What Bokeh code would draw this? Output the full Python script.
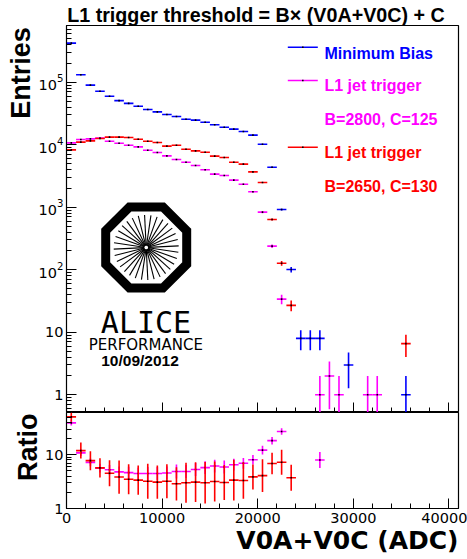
import math
from bokeh.plotting import figure
from bokeh.layouts import column
from bokeh.models import (Range1d, FixedTicker, SingleIntervalTicker, LogTickFormatter,
                          Label, ColumnDataSource, Title, CustomJSTickFormatter)
from bokeh.embed import file_html
from bokeh.resources import INLINE

# ---------------- data ----------------
BIN_WIDTH = 1000
X_MAX = 41000

counts_min_bias = [423000, 132000, 90000, 72000, 60000, 51000, 46000, 41500, 36700, 33700,
                   30500, 28400, 25700, 24800, 23000, 20900, 19100, 17800, 16300, 14300,
                   10200, 4380, 922, 101, 8, 8, 8, 0, 0, 3,
                   0, 0, 0, 0, 0, 1, 0, 0, 0, 0, 0]
counts_l1_b2800 = [10750, 12150, 12460, 12770, 11430, 10620, 9860, 9280, 8200, 7530,
                   6660, 5820, 5270, 4670, 3980, 3390, 3230, 2720, 2344, 1770,
                   836, 239, 34, 0, 0, 0, 1, 2, 1, 0,
                   0, 1, 1, 0, 0, 0, 0, 0, 0, 0, 0]
counts_l1_b2650 = [8310, 11020, 11570, 12610, 13250, 13250, 13090, 12300, 11430, 10890,
                   9510, 9860, 8510, 8010, 7620, 6580, 6270, 5270, 4900, 3690,
                   2494, 638, 127, 27, 0, 0, 0, 0, 0, 0,
                   0, 0, 0, 0, 0, 6.6, 0, 0, 0, 0, 0]
# ratio error half-widths (in decades)
ratio_err_dex_b2800 = [0.05, 0.06, 0.07, 0.08, 0.09, 0.10, 0.11, 0.11, 0.12, 0.12,
                       0.12, 0.13, 0.12, 0.12, 0.12, 0.12, 0.12, 0.11, 0.10, 0.09,
                       0.08, 0.07, 0.06, 0, 0, 0, 0.15, 0, 0, 0,
                       0, 0, 0, 0, 0, 0, 0, 0, 0, 0, 0]
ratio_err_dex_b2650 = [0.09, 0.149, 0.177, 0.18, 0.242, 0.31, 0.28, 0.273, 0.326, 0.31,
                       0.317, 0.31, 0.372, 0.372, 0.388, 0.372, 0.326, 0.378, 0.34, 0.233,
                       0.304, 0.2, 0.232, 0.242, 0, 0, 0, 0, 0, 0,
                       0, 0, 0, 0, 0, 0, 0, 0, 0, 0, 0]

legend_texts = ["Minimum Bias", "L1 jet trigger", "B=2800, C=125", "L1 jet trigger", "B=2650, C=130"]
title_text = "L1 trigger threshold = B\u00d7 (V0A+V0C) + C"
x_title = "V0A+V0C (ADC)"
y_title_top = "Entries"
y_title_bottom = "Ratio"

BLUE = "#0000ff"
MAGENTA = "#ff00ff"
RED = "#ff0000"

# ---------------- geometry ----------------
W, H = 467, 559
FL, FR = 66, 458          # frame left/right (px)
T_TOP, T_BOT = 25, 412    # top panel frame
B_TOP, B_BOT = 412, 508   # ratio panel frame
Y_TOP_MIN, Y_TOP_MAX = 0.521, 8.11e5
Y_BOT_MIN, Y_BOT_MAX = 1.0, 61.3


def tx(px):
    return (px - FL) / (FR - FL) * X_MAX


def ty(py):
    a, b = math.log10(Y_TOP_MIN), math.log10(Y_TOP_MAX)
    return 10 ** (a + (T_BOT - py) / (T_BOT - T_TOP) * (b - a))


def hist_source(counts):
    d = dict(x=[], x0=[], x1=[], y=[], lo=[], hi=[])
    for i, c in enumerate(counts):
        if c <= 0:
            continue
        xc = (i + 0.5) * BIN_WIDTH
        e = math.sqrt(c)
        d["x"].append(xc)
        d["x0"].append(xc - BIN_WIDTH / 2)
        d["x1"].append(xc + BIN_WIDTH / 2)
        d["y"].append(c)
        d["lo"].append(max(c - e, 1e-3))
        d["hi"].append(c + e)
    return ColumnDataSource(d)


def ratio_source(num, den, err_dex):
    d = dict(x=[], x0=[], x1=[], y=[], lo=[], hi=[])
    for i, (n, m, e) in enumerate(zip(num, den, err_dex)):
        if n <= 0 or m <= 0:
            continue
        r = n / m
        xc = (i + 0.5) * BIN_WIDTH
        d["x"].append(xc)
        d["x0"].append(xc - BIN_WIDTH / 2)
        d["x1"].append(xc + BIN_WIDTH / 2)
        d["y"].append(r)
        d["lo"].append(r / 10 ** e)
        d["hi"].append(r * 10 ** e)
    return ColumnDataSource(d)


def draw_cross(p, src, color):
    p.segment(x0="x0", y0="y", x1="x1", y1="y", source=src, line_color=color, line_width=1.6)
    p.segment(x0="x", y0="lo", x1="x", y1="hi", source=src, line_color=color, line_width=1.6)
    p.scatter(x="x", y="y", source=src, marker="square", size=1.6,
              fill_color="black", line_color=None)


def style_common(p):
    p.outline_line_color = "black"
    p.outline_line_width = 1.2
    p.xgrid.visible = False
    p.ygrid.visible = False
    p.background_fill_color = "white"
    p.border_fill_color = "white"
    for ax in p.axis:
        ax.axis_line_color = "black"
        ax.major_tick_line_color = "black"
        ax.minor_tick_line_color = "black"
        ax.major_tick_out = 0
        ax.minor_tick_out = 0
        ax.major_tick_in = 10
        ax.minor_tick_in = 5
        ax.major_label_text_font = "DejaVu Sans"
        ax.major_label_text_font_size = "14.5px"
        ax.major_label_text_color = "black"


def side_title(text, align, valign, font, size, style="bold", offset=0, standoff=0):
    return Title(text=text, align=align, vertical_align=valign, text_font=font,
                 text_font_size=size, text_font_style=style, text_color="black",
                 offset=offset, standoff=standoff)


# ---------------- top panel ----------------
p1 = figure(width=W, height=T_BOT, y_axis_type="log",
            x_range=Range1d(0, X_MAX), y_range=Range1d(Y_TOP_MIN, Y_TOP_MAX),
            output_backend="svg", toolbar_location=None,
            min_border_left=FL, min_border_right=W - FR,
            min_border_top=T_TOP, min_border_bottom=0)
style_common(p1)
top_major = [1, 10, 100, 1e3, 1e4, 1e5]
top_minor = [m * 10 ** k for k in range(-1, 6) for m in range(2, 10)
             if Y_TOP_MIN < m * 10 ** k < Y_TOP_MAX]
p1.yaxis.ticker = FixedTicker(ticks=top_major, minor_ticks=top_minor)
p1.yaxis.formatter = LogTickFormatter(min_exponent=2)
p1.yaxis.major_label_standoff = 3
p1.xaxis.ticker = SingleIntervalTicker(interval=10000, num_minor_ticks=5)
p1.xaxis.formatter = CustomJSTickFormatter(code="return ''")
p1.xaxis.major_label_text_font_size = "1px"
p1.xaxis.major_label_standoff = 0

# title (above) and y title (left)
p1.title.text = title_text
p1.title.align = "left"
p1.title.vertical_align = "bottom"
p1.title.text_font = "Liberation Sans"
p1.title.text_font_style = "bold"
p1.title.text_font_size = "19.7px"
p1.title.text_color = "black"
p1.title.offset = 0.7
p1.title.standoff = 0
p1.add_layout(side_title(y_title_top, "right", "bottom", "Liberation Sans", "27px",
                         offset=1.7), "left")

draw_cross(p1, hist_source(counts_min_bias), BLUE)
draw_cross(p1, hist_source(counts_l1_b2800), MAGENTA)
draw_cross(p1, hist_source(counts_l1_b2650), RED)

# legend
leg_colors = [BLUE, MAGENTA, MAGENTA, RED, RED]
leg_base = [53, 85, 118.7, 152, 185.5]
for t, c, yb in zip(legend_texts, leg_colors, leg_base):
    p1.add_layout(Label(x=tx(324), y=ty(yb), text=t, text_font="Liberation Sans",
                        text_font_style="bold", text_font_size="16px", text_color=c,
                        text_align="left", text_baseline="alphabetic"))
leg_line_y = [46.7, 80, 146.7]
for c, yl in zip([BLUE, MAGENTA, RED], leg_line_y):
    p1.segment(x0=[tx(287.3)], y0=[ty(yl)], x1=[tx(317.3)], y1=[ty(yl)],
               line_color=c, line_width=1.6)
    p1.scatter(x=[tx(302.3)], y=[ty(yl)], marker="square", size=1.6,
               fill_color="black", line_color=None)

# ALICE performance logo
cxp, cyp = 145.7, 247.0
apo = 40.5
R = apo / math.cos(math.radians(22.5))
ox, oy = [], []
for k in range(8):
    a = math.radians(22.5 + 45 * k)
    ox.append(tx(cxp + R * math.cos(a)))
    oy.append(ty(cyp - R * math.sin(a)))
p1.patch(ox, oy, fill_color=None, line_color="black", line_width=9, line_join="miter")
sx0, sy0, sx1, sy1 = [], [], [], []
nsp = 32
for k in range(nsp):
    a = 2 * math.pi * k / nsp + 0.05
    sx0.append(tx(cxp + 2 * math.cos(a)))
    sy0.append(ty(cyp - 2 * math.sin(a)))
    sx1.append(tx(cxp + 32.5 * math.cos(a)))
    sy1.append(ty(cyp - 32.5 * math.sin(a)))
p1.segment(x0=sx0, y0=sy0, x1=sx1, y1=sy1, line_color="black", line_width=1.1)
p1.add_layout(Label(x=tx(145.5), y=ty(321.7), text="ALICE", text_font="DejaVu Sans Mono",
                    text_font_size="30px", text_color="black", text_align="center",
                    text_baseline="alphabetic"))
p1.add_layout(Label(x=tx(145.3), y=ty(344), text="PERFORMANCE", text_font="DejaVu Sans",
                    text_font_size="15px", text_color="black", text_align="center",
                    text_baseline="alphabetic"))
p1.add_layout(Label(x=tx(139.5), y=ty(360), text="10/09/2012", text_font="Liberation Sans",
                    text_font_style="bold", text_font_size="15.5px", text_color="black",
                    text_align="center", text_baseline="alphabetic"))

# ---------------- ratio panel ----------------
p2 = figure(width=W, height=H - B_TOP, y_axis_type="log",
            x_range=p1.x_range, y_range=Range1d(Y_BOT_MIN, Y_BOT_MAX),
            output_backend="svg", toolbar_location=None,
            min_border_left=FL, min_border_right=W - FR,
            min_border_top=0, min_border_bottom=H - B_BOT)
style_common(p2)
p2.yaxis.ticker = FixedTicker(ticks=[1, 10],
                              minor_ticks=[m * 10 ** k for k in range(0, 2) for m in range(2, 10)
                                           if m * 10 ** k < Y_BOT_MAX])
p2.yaxis.formatter = LogTickFormatter(min_exponent=2)
p2.yaxis.major_label_standoff = 3
p2.xaxis.ticker = SingleIntervalTicker(interval=10000, num_minor_ticks=5)
p2.xaxis.major_label_standoff = 4

p2.add_layout(side_title(y_title_bottom, "right", "bottom", "Liberation Sans", "27px",
                         offset=1), "left")
p2.add_layout(side_title(x_title, "right", "top", "DejaVu Sans", "25px", offset=0), "below")

draw_cross(p2, ratio_source(counts_min_bias, counts_l1_b2800, ratio_err_dex_b2800), MAGENTA)
draw_cross(p2, ratio_source(counts_min_bias, counts_l1_b2650, ratio_err_dex_b2650), RED)

layout = column(p1, p2, spacing=0)
open("out.html", "w").write(file_html(layout, INLINE))
